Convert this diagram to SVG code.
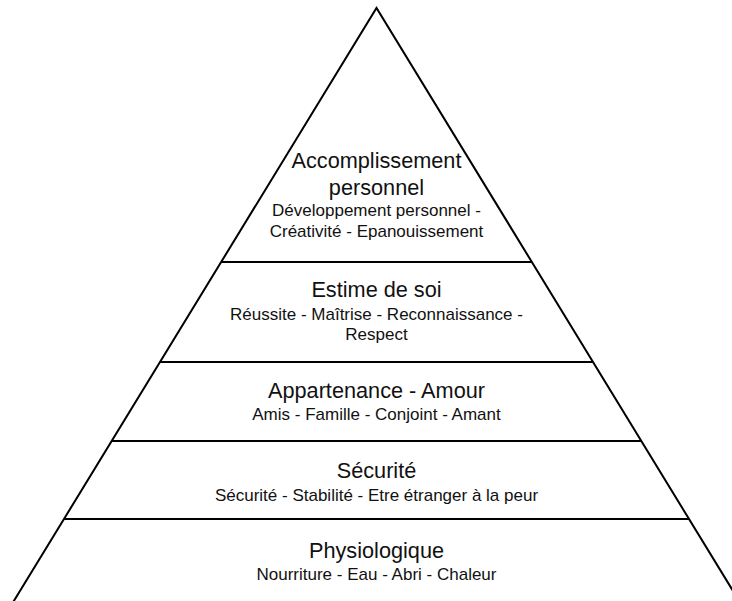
<svg xmlns="http://www.w3.org/2000/svg" width="732" height="601" viewBox="0 0 732 601">
  <style>
    .edge { fill: none; stroke: #000; stroke-width: 2; stroke-linejoin: miter; }
    .sep { stroke: #000; stroke-width: 2.2; }
    text { font-family: "Liberation Sans", Arial, sans-serif; fill: #111; text-anchor: middle; }
    .head { font-size: 21.7px; }
    .sub { font-size: 17px; }
  </style>
  <rect width="732" height="601" fill="#fff"/>

  <!-- pyramid outline and level separators -->
  <g id="outline">
    <path class="edge" d="M 12 604 L 376.5 8 L 741 604"/>
    <line class="sep" x1="221.2" y1="262" x2="531.8" y2="262"/>
    <line class="sep" x1="160.1" y1="362" x2="592.9" y2="362"/>
    <line class="sep" x1="111.8" y1="441" x2="641.2" y2="441"/>
    <line class="sep" x1="64.1" y1="519" x2="688.9" y2="519"/>
  </g>

  <g id="level-accomplissement">
    <text class="head" x="376.5" y="168">Accomplissement</text>
    <text class="head" x="376.5" y="195">personnel</text>
    <text class="sub" x="376.5" y="216">Développement personnel -</text>
    <text class="sub" x="376.5" y="237">Créativité - Epanouissement</text>
  </g>

  <g id="level-estime">
    <text class="head" x="376.5" y="297">Estime de soi</text>
    <text class="sub" x="376.5" y="320">Réussite - Maîtrise - Reconnaissance -</text>
    <text class="sub" x="376.5" y="340">Respect</text>
  </g>

  <g id="level-appartenance">
    <text class="head" x="376.5" y="398">Appartenance - Amour</text>
    <text class="sub" x="376.5" y="420">Amis - Famille - Conjoint - Amant</text>
  </g>

  <g id="level-securite">
    <text class="head" x="376.5" y="478">Sécurité</text>
    <text class="sub" x="376.5" y="501">Sécurité - Stabilité - Etre étranger à la peur</text>
  </g>

  <g id="level-physiologique">
    <text class="head" x="376.5" y="558">Physiologique</text>
    <text class="sub" x="376.5" y="580">Nourriture - Eau - Abri - Chaleur</text>
  </g>
</svg>
